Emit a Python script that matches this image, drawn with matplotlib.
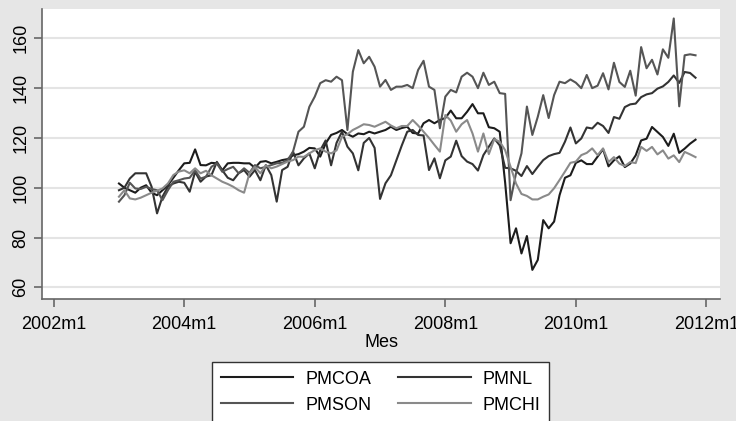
import pandas as pd
import matplotlib
matplotlib.use("Agg")
import matplotlib.pyplot as plt

plt.rcParams["font.family"] = ["Liberation Sans", "DejaVu Sans"]

# Monthly series, 2003m1 to 2011m11
months = pd.period_range("2003-01", periods=107, freq="M")

pmcoa = [
    101.7, 100, 99, 98, 100, 101, 98, 97, 99, 101, 104, 107,
    109.8, 110, 115.4, 109.1, 109, 110, 109.8, 107, 109.8, 110, 110, 109.8,
    109.8, 108, 110.4, 110.7, 109.8, 110.4, 111.1, 111.5, 113, 113.5, 114.5, 116,
    115.8, 112.5, 117.8, 121.2, 122, 123.2, 121.5, 120.5, 121.8, 121.5, 122.5, 121.8,
    122.5, 123.2, 124.5, 123.2, 124, 124.5, 122, 121.8, 125.9, 127.2, 125.9, 127.2,
    128, 131, 127.9, 127.9, 130.5, 133.6, 129.9, 129.9, 124.3, 123.9, 122.5, 102,
    77.7, 83.7, 73.6, 80.6, 67, 71, 87, 83.7, 86.4, 97, 104, 105,
    110, 111, 109.5, 109.5, 112.5, 115.5, 108.6, 111, 112.6, 108.3, 109.7, 113,
    119, 119.7, 124.4, 122.4, 120.4, 116.8, 121.7, 114, 115.7, 117.7, 119.3,
]
pmnl = [
    99, 100, 103.7, 105.8, 105.8, 105.8, 100.4, 89.7, 96.4, 100.4, 101.7, 102.4,
    102, 98.4, 106.4, 102.4, 104.5, 105, 110.4, 107, 104, 103, 105.8, 107.1,
    104.4, 107.1, 103, 109.1, 105.1, 94.4, 107.1, 108.4, 114.5, 109, 111.8, 113.8,
    107.8, 115, 119, 109, 118, 122.5, 116.5, 113.8, 107, 118, 120, 116,
    95.5, 101.8, 105, 111, 117, 122.5, 123.2, 121.2, 121, 107.1, 111.8, 103.8,
    111, 112.5, 118.9, 112.7, 110.5, 109.5, 106.9, 113.1, 116.5, 119.8, 117, 108,
    107.8, 106.8, 104.7, 108.7, 105.5, 108.4, 111.1, 112.7, 113.5, 114, 118.5, 124.2,
    117.8, 119.8, 124.2, 123.8, 126.1, 124.8, 122, 128.4, 127.7, 132.4, 133.5, 133.8,
    136.4, 137.5, 138, 139.8, 140.7, 142.5, 145.1, 142.1, 146.5, 146.1, 144.2,
]
pmson = [
    94.4, 97, 102, 99.7, 99.5, 100.4, 99.5, 99, 95, 99, 102.4, 103,
    103.7, 104, 107, 103.7, 104.4, 108.4, 109.8, 106.4, 107.5, 108.4, 105.8, 107.8,
    106, 109.1, 107.8, 108.4, 109.1, 109.8, 110, 111.1, 114.5, 122.5, 124.5, 132.5,
    136.6, 142, 143.2, 142.6, 144.6, 143.2, 123.2, 146.6, 155.3, 150, 152.6, 148.6,
    140.6, 143.3, 139.3, 140.6, 140.6, 141.3, 140, 147.3, 151, 140.6, 139.3, 123.9,
    136.6, 139.3, 138.3, 144.6, 146.2, 144.6, 140, 146.2, 141.3, 142.6, 138, 137.7,
    95, 105.8, 113.8, 132.6, 121.2, 128.5, 137.2, 128, 137.2, 142.6, 142, 143.5,
    142.2, 140, 145.3, 140, 141, 146, 139.5, 150.2, 142.5, 140.5, 147, 137,
    156.5, 148, 151.4, 145.5, 155.6, 152.2, 168, 132.7, 153.2, 153.6, 153.2,
]
pmchi = [
    96.4, 99, 95.7, 95.3, 96, 97, 98, 98.8, 99.7, 101.7, 105.1, 106.5,
    107, 105.8, 107.8, 105.8, 106.8, 105, 103.7, 102.4, 101.5, 100.4, 99, 98,
    105.8, 108.4, 105.8, 109, 107.8, 108.5, 109.5, 110.5, 111.1, 112.5, 112.4, 113.8,
    115.1, 115.8, 114.5, 113.8, 115, 120.5, 121.5, 123.2, 124.3, 125.5, 125.2, 124.5,
    125.5, 126.5, 125, 123.9, 124.8, 124.8, 127.2, 125, 122.5, 120, 117.2, 114.5,
    129.2, 127, 122.5, 125.5, 127.2, 121.8, 114.5, 121.8, 113.5, 119.5, 118.5, 115.1,
    108.4, 101.7, 97.5, 96.7, 95.3, 95.3, 96.4, 97.3, 99.8, 103.1, 106.5, 110,
    110.5, 113.1, 114, 115.8, 113.1, 115.8, 110.3, 112.3, 109.7, 108.7, 110.3, 109.9,
    116.4, 114.8, 116.4, 113.4, 115, 111.7, 113, 110.3, 114.4, 113.4, 112.3,
]

x_labels = ["2002m1", "2004m1", "2006m1", "2008m1", "2010m1", "2012m1"]
y_ticks = [60, 80, 100, 120, 140, 160]

# month number counted from 2002m1
x = (months.year - 2002) * 12 + (months.month - 1)
x_ticks = [(int(s[:4]) - 2002) * 12 for s in x_labels]

bg = "#e6e6e6"
fig = plt.figure(figsize=(7.36, 4.21), dpi=100, facecolor=bg)
ax = fig.add_axes([42 / 736, 1 - 299 / 421, (720 - 42) / 736, (299 - 9) / 421])
ax.set_facecolor("white")

series = [
    ("PMCOA", pmcoa, "#1c1c1c"),
    ("PMNL", pmnl, "#333333"),
    ("PMSON", pmson, "#555555"),
    ("PMCHI", pmchi, "#8a8a8a"),
]
lines = {}
for name, vals, col in series:
    lines[name], = ax.plot(x, vals, color=col, lw=1.5, label=name)

ax.set_xlim(-2.15, 122.5)
ax.set_ylim(55.3, 171.8)
ax.set_yticks(y_ticks)
ax.set_xticks(x_ticks)
ax.set_xticklabels(x_labels)
for lab in ax.get_yticklabels():
    lab.set_rotation(90)
    lab.set_va("center")

ax.grid(axis="y", color="#e4e4e4", lw=1.5)
ax.set_axisbelow(True)
for s in ["top", "right"]:
    ax.spines[s].set_visible(False)
for s in ["left", "bottom"]:
    ax.spines[s].set_color("#666666")
    ax.spines[s].set_linewidth(1.2)
ax.tick_params(axis="both", colors="#666666", length=6, width=1.2, labelsize=13,
               labelcolor="black")
ax.tick_params(axis="y", pad=3)
ax.tick_params(axis="x", pad=6)
ax.set_xlabel("Mes", fontsize=13, labelpad=1)

# legend in two rows: COA, NL / SON, CHI
order = ["PMCOA", "PMSON", "PMNL", "PMCHI"]
leg = fig.legend([lines[n] for n in order], order, ncol=2, loc="upper center",
                 bbox_to_anchor=(380.7 / 736, 1 - 361.7 / 421), fontsize=13,
                 handlelength=4.0, handletextpad=0.65, columnspacing=1.5,
                 borderpad=0.5, labelspacing=0.5, fancybox=False, framealpha=1,
                 edgecolor="#333333", borderaxespad=0)
leg.get_frame().set_linewidth(1.0)

fig.savefig("out.png", dpi=100, facecolor=bg)
